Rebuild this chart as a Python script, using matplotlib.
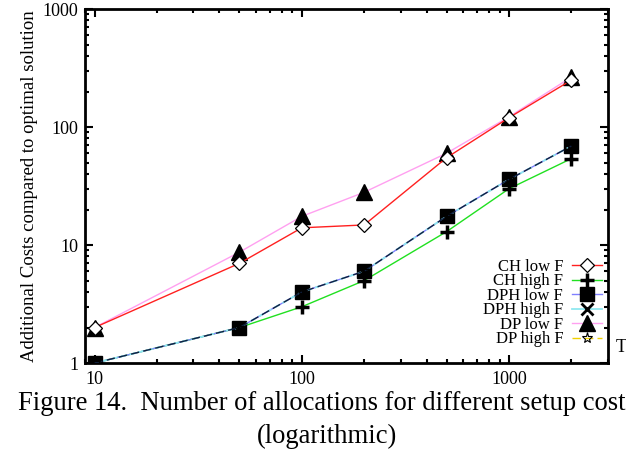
import matplotlib
matplotlib.use("Agg")
import matplotlib.pyplot as plt
import matplotlib.ticker as mticker

plt.rcParams.update({
    "font.family": ["Liberation Serif", "DejaVu Serif"],
})

# ── data ─────────────────────────────────────────────
setup_costs = [10, 50, 100, 200, 500, 1000, 2000]
ch_low = [2, 7, 14, 14.8, 55, 120, 250]
ch_high = [1, 2, 3, 5, 13, 30, 54]
dph_low = [1, 2, 4, 6, 17.5, 36, 69]
dph_high = [1, 2, 4, 6, 17.5, 36, 69]
dp_low = [2, 8.7, 17.5, 28, 60, 122, 265]
dp_high = [1, 2, 4, 6, 17.5, 36, 69]

labels = ["CH low F", "CH high F", "DPH low F", "DPH high F",
          "DP low F", "DP high F"]

fig = plt.figure(figsize=(6.26, 4.51), dpi=100)
ax = fig.add_axes([0.136, 0.195, 0.835, 0.785])

ax.plot(setup_costs, ch_low, color="#ff2020", lw=1.0, marker="D",
        ms=7, mfc="white", mec="black", mew=0.9, label=labels[0], zorder=3)
ax.plot(setup_costs, ch_high, color="#20e020", lw=1.0, marker="+",
        ms=10, mec="black", mew=2.5, label=labels[1], zorder=3)
ax.plot(setup_costs, dph_low, color="#8080ff", lw=1.0, marker="s",
        ms=9.5, mfc="black", mec="black", label=labels[2], zorder=3)
ax.plot(setup_costs, dph_high, color="#90e8f0", lw=1.3, ls=(0, (3, 2)),
        marker="x", ms=9, mec="black", mew=2, label=labels[3], zorder=4)
ax.plot(setup_costs, dp_low, color="#ffa0f0", lw=1.0, marker="^",
        ms=11, mfc="black", mec="black", label=labels[4], zorder=2)
ax.plot(setup_costs, dp_high, color="#102040", lw=1.0, ls=(0, (6, 3)),
        marker="*", ms=8, mfc="none", mec="black", mew=0.8,
        label=labels[5], zorder=5)

ax.set_xscale("log")
ax.set_yscale("log")
ax.set_xlim(9, 3000)
ax.set_ylim(1, 1000)

ax.xaxis.set_major_formatter(mticker.FuncFormatter(lambda v, p: f"{v:g}"))
ax.yaxis.set_major_formatter(mticker.FuncFormatter(lambda v, p: f"{v:g}"))
ax.xaxis.set_minor_formatter(mticker.NullFormatter())
ax.yaxis.set_minor_formatter(mticker.NullFormatter())

ax.tick_params(which="both", direction="in", top=True, right=True,
               width=1.5, labelsize=13)
ax.tick_params(which="major", length=6)
ax.tick_params(which="minor", length=3)
ax.tick_params(axis="x", pad=6)
ax.tick_params(axis="y", pad=5)
for s in ax.spines.values():
    s.set_linewidth(2)

ax.set_ylabel("Additional Costs compared to optimal solution", fontsize=13.5,
              labelpad=3)
ax.text(1.015, 0.045, "T", transform=ax.transAxes, fontsize=13,
        ha="left", va="center", clip_on=False)

leg = ax.legend(loc="lower right", bbox_to_anchor=(0.988, 0.044),
                frameon=False, markerfirst=False, fontsize=12,
                labelspacing=-0.09, handlelength=1.75, handletextpad=0.55,
                borderpad=0, borderaxespad=0, numpoints=1)
leg.get_lines()[3].set_linestyle("-")
leg.get_lines()[5].set_color("#f0d000")

fig.text(18 / 626, 1 - 404 / 451, "Figure 14.  Number of allocations for "
         "different setup costs", fontsize=19.2, ha="left", va="center")
fig.text(327 / 626, 1 - 436 / 451, "(logarithmic)", fontsize=19.2,
         ha="center", va="center")

fig.savefig("out.png", dpi=100)
